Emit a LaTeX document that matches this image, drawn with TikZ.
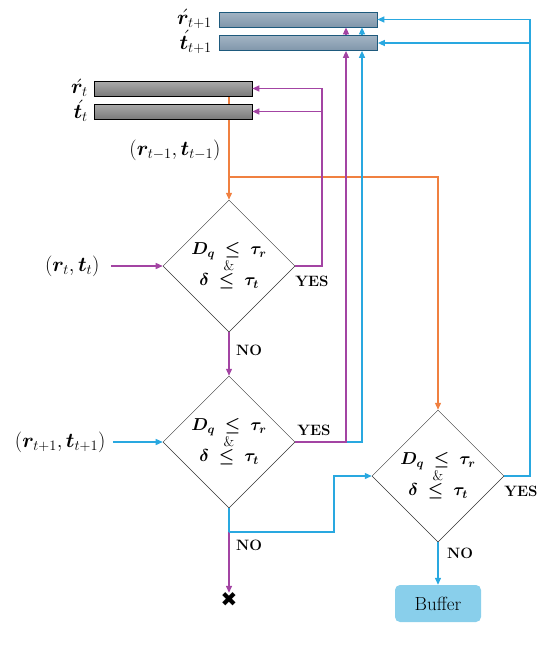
\documentclass[tikz,border=0pt]{standalone}
\usepackage{amsmath}
\usepackage{bm}
\usepackage{fontspec}
\newfontfamily\crossfont{DejaVu Sans}
\usetikzlibrary{positioning,shapes.geometric,arrows.meta,backgrounds}

\definecolor{purpleLine}{RGB}{163,68,163}
\definecolor{blueLine}{RGB}{41,168,224}
\definecolor{orangeLine}{RGB}{240,128,64}
\definecolor{bufferFill}{RGB}{137,207,235}

\newcommand{\andSign}{\fontsize{14}{14}\selectfont\&}
\newcommand{\poseTest}{$\bm{D_q\ \le\ \tau_r}$\\\andSign\\$\bm{\delta\ \le\ \tau_t}$}

\begin{document}
\begin{tikzpicture}[%
    x=1pt, y=-1pt,
    check/.style={%
        draw=black!80,
        diamond,
        line width=0.5pt,
        minimum width=132pt,
        minimum height=132pt,
        inner sep=0pt,
        align=center,
        font=\fontsize{17}{15.5}\selectfont,
        execute at begin node={\lineskiplimit=-20pt}
    },
    barOld/.style={%
        draw=black,
        line width=0.7pt,
        rectangle,
        minimum width=158pt,
        minimum height=15pt,
        inner sep=0pt,
        top color=black!33,
        bottom color=black!52
    },
    barNew/.style={%
        draw={rgb,255:red,30;green,90;blue,125},
        line width=0.7pt,
        rectangle,
        minimum width=158pt,
        minimum height=15pt,
        inner sep=0pt,
        top color={rgb,255:red,163;green,180;blue,196},
        bottom color={rgb,255:red,128;green,150;blue,170}
    },
    pose/.style={%
        inner sep=1pt,
        font=\fontsize{20}{22}\selectfont
    },
    answer/.style={%
        inner sep=0pt,
        font=\fontsize{15}{17}\selectfont\bfseries
    },
    buffer/.style={%
        fill=bufferFill,
        rectangle,
        rounded corners=5pt,
        minimum width=86pt,
        minimum height=37pt,
        font=\fontsize{19}{21}\selectfont
    },
    purp/.style={draw=purpleLine, line width=1.3pt},
    blu/.style={draw=blueLine, line width=1.3pt},
    ora/.style={draw=orangeLine, line width=1.3pt},
    >={Triangle[length=7pt,width=6pt]}
]
\useasboundingbox (0,0) rectangle (548,648);

% Pose buffers
    \node[barNew] (rHatN) at (298,19.5) {};
    \node[barNew] (tHatN) at (298.5,43) {};
    \node[barOld] (rHatT) at (173,88.5) {};
    \node[barOld] (tHatT) at (173,111.5) {};
    \node[pose, anchor=east, inner sep=0pt] (rHatNLabel) at (212,19) {$\acute{\bm{r}}_{t+1}$};
    \node[pose, anchor=east, inner sep=0pt] (tHatNLabel) at (212,42) {$\acute{\bm{t}}_{t+1}$};
    \node[pose, anchor=east, inner sep=0pt] (rHatTLabel) at (88,88) {$\acute{\bm{r}}_{t}$};
    \node[pose, anchor=east, inner sep=0pt] (tHatTLabel) at (88,111) {$\acute{\bm{t}}_{t}$};

% Checks
    \node[check] (check1) at (229,266) {\poseTest};
    \node[check] (check2) at (229,442) {\poseTest};
    \node[check] (check3) at (438,476) {\poseTest};

% Inputs
    \node[pose] (inPrev) at (175,150) {$(\bm{r}_{t-1},\bm{t}_{t-1})$};
    \node[pose, left=62pt of check1] (inNow) {$(\bm{r}_{t},\bm{t}_{t})$};
    \node[pose, left=56pt of check2] (inNext) {$(\bm{r}_{t+1},\bm{t}_{t+1})$};

% Ends
    \node[inner sep=0pt, font=\crossfont\fontsize{20}{20}\selectfont] (drop) at (229,600) {✖};
    \node[buffer] (buf) at (438,603.5) {Buffer};

% Answers
    \node[answer] (yes1) at (312,281) {YES};
    \node[answer] (no1) at (249,350) {NO};
    \node[answer] (yes2) at (314,430) {YES};
    \node[answer] (no2) at (249,545) {NO};
    \node[answer] (yes3) at (521,491) {YES};
    \node[answer] (no3) at (460,553) {NO};

% Turning points
    \coordinate (split) at (229,177);
    \coordinate (back1) at (322,0);
    \coordinate (back2) at (346,0);
    \coordinate (back3) at (362,0);
    \coordinate (fail2) at (229,532);
    \coordinate (step3) at (334,0);
    \coordinate (back4) at (530,0);

% Arrows
\begin{pgfonlayer}{background}
\draw[ora,->] (check1.north |- rHatT.south) -- (check1.north);
\end{pgfonlayer}
\draw[ora,->] (split) -| (check3.north);

\draw[purp,->,shorten <=10pt] (inNow) -- (check1);
\draw[purp,->] (check1.east) -- (check1.east -| back1) -- (back1 |- rHatT.east) -- (rHatT.east);
\draw[purp,->] (back1 |- tHatT.east) -- (tHatT.east);
\draw[purp,->] (check1.south) -- (check2.north);

\draw[blu,->,shorten <=6pt] (inNext) -- (check2);
\draw[blu,->] (check2.east) -- (check2.east -| back3) -- (back3 |- tHatN.south);
\draw[blu,->] (back3 |- tHatN.north) -- (back3 |- rHatN.south);
\draw[purp,->] (check2.east) -- (check2.east -| back2) -- (back2 |- tHatN.south);
\draw[purp,->] (back2 |- tHatN.north) -- (back2 |- rHatN.south);

\draw[purp,->] (fail2) -- (drop.north);
\draw[blu] (check2.south) -- (fail2);
\draw[blu,->] (fail2) -| (step3 |- check3.west) -- (check3.west);

\draw[blu,->] (check3.east) -- (check3.east -| back4) -- (back4 |- rHatN.east) -- (rHatN.east);
\draw[blu,->] (back4 |- tHatN.east) -- (tHatN.east);
\draw[blu,->] (check3.south) -- (buf.north);

\end{tikzpicture}
\end{document}
